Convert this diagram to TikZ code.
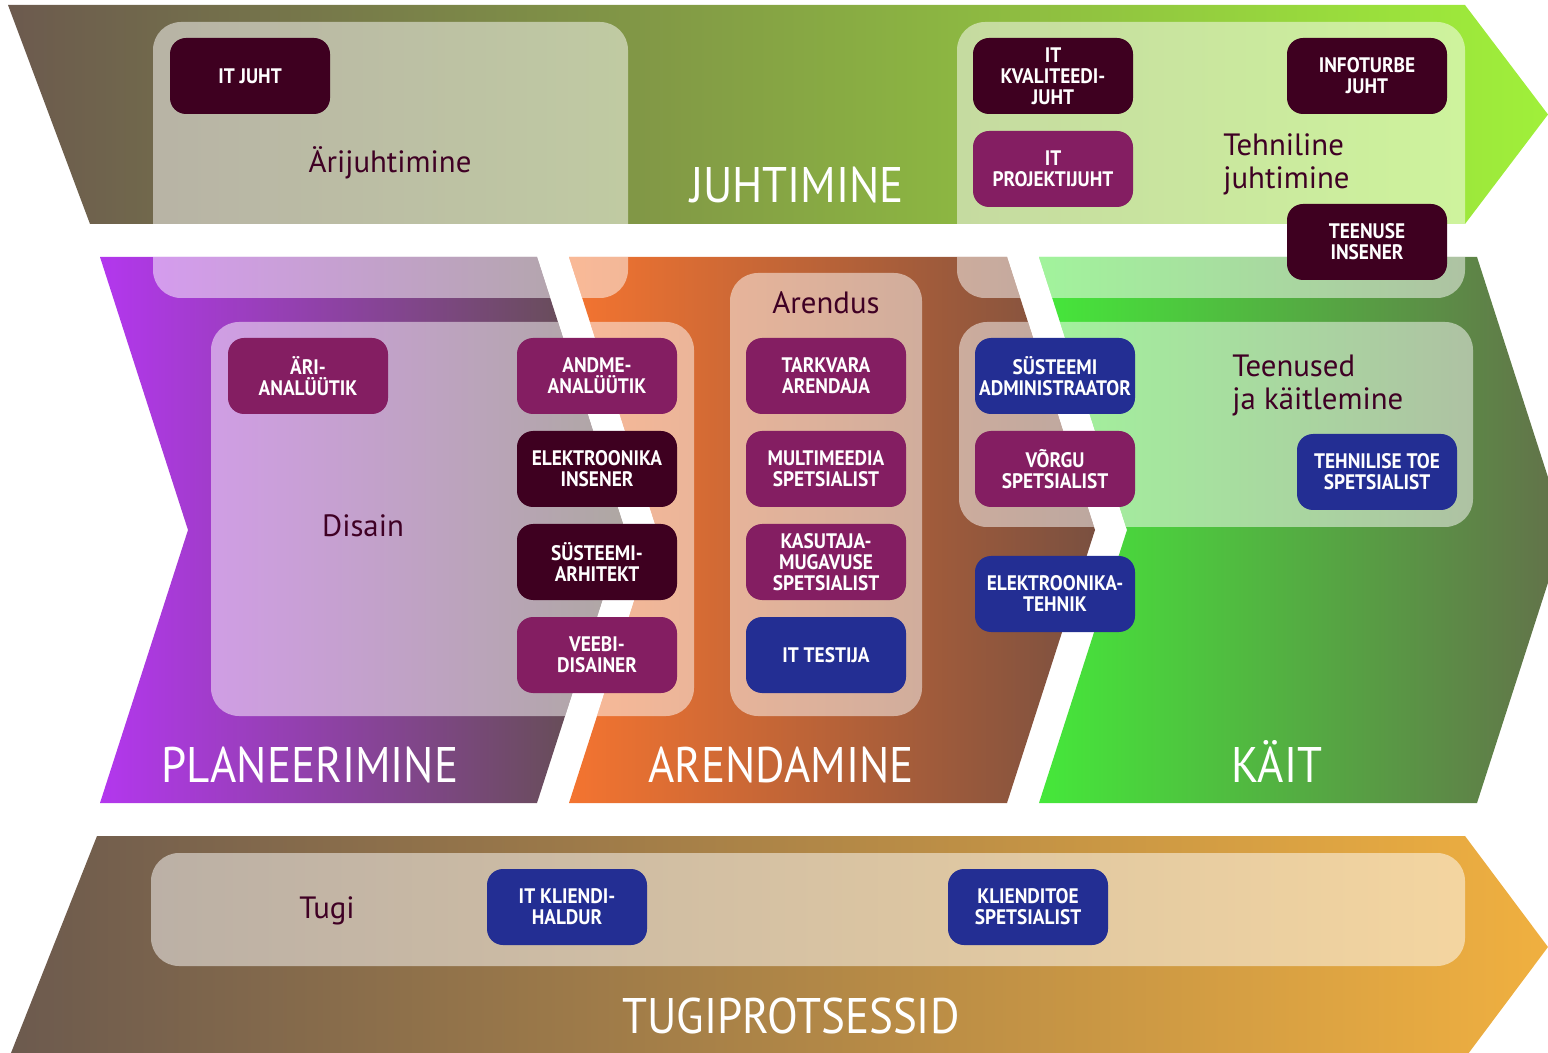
\documentclass[tikz,border=0pt]{standalone}
\usepackage{fontspec}
\setmainfont{PT Sans}
\newfontfamily\boxfont{PT Sans}[FakeStretch=0.92]
\newfontfamily\titlefont{PT Sans}[FakeStretch=0.9]
\definecolor{boxdark}{HTML}{3E0020}
\definecolor{boxpurple}{HTML}{841E62}
\definecolor{boxblue}{HTML}{232E93}
\definecolor{labelcol}{HTML}{3F0024}
\definecolor{topL}{HTML}{6C5A4E}
\definecolor{topM}{HTML}{87AC48}
\definecolor{topR}{HTML}{A0F03A}
\definecolor{plaL}{HTML}{B337EE}
\definecolor{plaM}{HTML}{8A4A96}
\definecolor{plaR}{HTML}{5E5046}
\definecolor{areL}{HTML}{F47430}
\definecolor{areM}{HTML}{B8603A}
\definecolor{areR}{HTML}{7A5040}
\definecolor{kaiL}{HTML}{45E83A}
\definecolor{kaiM}{HTML}{58AE42}
\definecolor{kaiR}{HTML}{63704A}
\definecolor{tugL}{HTML}{6C5A4E}
\definecolor{tugM}{HTML}{A57E48}
\definecolor{tugR}{HTML}{F0B040}
\tikzset{
  rolebox/.style={rounded corners=8pt, minimum width=80pt, minimum height=38pt, inner sep=0pt,
    align=center, text=white, font=\boxfont\bfseries\fontsize{10.5}{10.5}\selectfont},
  darkbox/.style={rolebox, fill=boxdark},
  purplebox/.style={rolebox, fill=boxpurple},
  bluebox/.style={rolebox, fill=boxblue},
  panel/.style={fill=white, opacity=0.5, rounded corners=14pt},
  grouplabel/.style={text=labelcol, font=\fontsize{15.4}{16.5}\selectfont, inner sep=0pt},
  bandtitle/.style={text=white, font=\titlefont\fontsize{25}{25}\selectfont, inner sep=0pt, anchor=base}
}
\begin{document}
\begin{tikzpicture}[x=0.5pt,y=-0.5pt]
\useasboundingbox (0,0) rectangle (1548,1053);
\clip (0,0) rectangle (1548,1053);
% bands
\shade[left color=topL, middle color=topM, right color=topR]
  (8,5) -- (1465,5) -- (1548,114.5) -- (1465,224) -- (90,224) -- cycle;
\shade[left color=plaL, middle color=plaM, right color=plaR]
  (100,257) -- (537,257) -- (625,530) -- (537,803) -- (100,803) -- (188,530) -- cycle;
\shade[left color=areL, middle color=areM, right color=areR]
  (569,257) -- (1007,257) -- (1095,530) -- (1007,803) -- (569,803) -- (657,530) -- cycle;
\shade[left color=kaiL, middle color=kaiM, right color=kaiR]
  (1039,257) -- (1477,257) -- (1565,530) -- (1477,803) -- (1039,803) -- (1127,530) -- cycle;
\shade[left color=tugL, middle color=tugM, right color=tugR]
  (97,836) -- (1465,836) -- (1548,947) -- (1465,1058) -- (9,1058) -- cycle;
% panels clipped to the bands
\begin{scope}
\clip (8,5) -- (1465,5) -- (1548,114.5) -- (1465,224) -- (90,224) -- cycle
  (100,257) -- (537,257) -- (625,530) -- (537,803) -- (100,803) -- (188,530) -- cycle
  (569,257) -- (1007,257) -- (1095,530) -- (1007,803) -- (569,803) -- (657,530) -- cycle
  (1039,257) -- (1477,257) -- (1565,530) -- (1477,803) -- (1039,803) -- (1127,530) -- cycle
  (97,836) -- (1465,836) -- (1548,947) -- (1465,1058) -- (9,1058) -- cycle;
\fill[panel] (153,22) rectangle (628,298);
\fill[panel] (957,22) rectangle (1465,298);
\fill[panel] (211,322) rectangle (694,716);
\fill[panel] (730,273) rectangle (922,716);
\fill[panel] (959,322) rectangle (1473,527);
\fill[panel] (151,853) rectangle (1465,966);
\end{scope}
% band titles
\node[bandtitle] (tJuht) at (797,203) {JUHTIMINE};
\node[bandtitle] (tPlan) at (310,782) {PLANEERIMINE};
\node[bandtitle] (tAren) at (781,782) {ARENDAMINE};
\node[bandtitle] (tKait) at (1277,782) {KÄIT};
\node[bandtitle] (tTugi) at (791,1033) {TUGIPROTSESSID};
% group labels
\node[grouplabel, anchor=base] (lAri) at (390,173) {Ärijuhtimine};
\node[grouplabel, anchor=base west, align=left] (lTeh) at (1223,189) {Tehniline\\juhtimine};
\node[grouplabel, anchor=base] (lDis) at (363,537) {Disain};
\node[grouplabel, anchor=base] (lAre) at (826,314) {Arendus};
\node[grouplabel, anchor=base west, align=left] (lTee) at (1232,410) {Teenused\\ja käitlemine};
\node[grouplabel, anchor=base] (lTug) at (327,918) {Tugi};
% role boxes
\node[darkbox] (itjuht) at (250,76) {IT JUHT};
\node[darkbox] (kval) at (1053,76) {IT\\KVALITEEDI-\\JUHT};
\node[purplebox] (proj) at (1053,169) {IT\\PROJEKTIJUHT};
\node[darkbox] (info) at (1367,76) {INFOTURBE\\JUHT};
\node[darkbox] (teen) at (1367,242) {TEENUSE\\INSENER};
\node[purplebox] (ari) at (308,376) {ÄRI-\\ANALÜÜTIK};
\node[purplebox] (andme) at (597,376) {ANDME-\\ANALÜÜTIK};
\node[darkbox] (elins) at (597,469) {ELEKTROONIKA\\INSENER};
\node[darkbox] (arh) at (597,562) {SÜSTEEMI-\\ARHITEKT};
\node[purplebox] (veeb) at (597,655) {VEEBI-\\DISAINER};
\node[purplebox] (tark) at (826,376) {TARKVARA\\ARENDAJA};
\node[purplebox] (mult) at (826,469) {MULTIMEEDIA\\SPETSIALIST};
\node[purplebox] (kasu) at (826,562) {KASUTAJA-\\MUGAVUSE\\SPETSIALIST};
\node[bluebox] (test) at (826,655) {IT TESTIJA};
\node[bluebox] (adm) at (1055,376) {SÜSTEEMI\\ADMINISTRAATOR};
\node[purplebox] (vorg) at (1055,469) {VÕRGU\\SPETSIALIST};
\node[bluebox] (eltehn) at (1055,594) {ELEKTROONIKA-\\TEHNIK};
\node[bluebox] (tehtoe) at (1377,472) {TEHNILISE TOE\\SPETSIALIST};
\node[bluebox] (klhald) at (567,907) {IT KLIENDI-\\HALDUR};
\node[bluebox] (kltoe) at (1028,907) {KLIENDITOE\\SPETSIALIST};
\end{tikzpicture}
\end{document}
